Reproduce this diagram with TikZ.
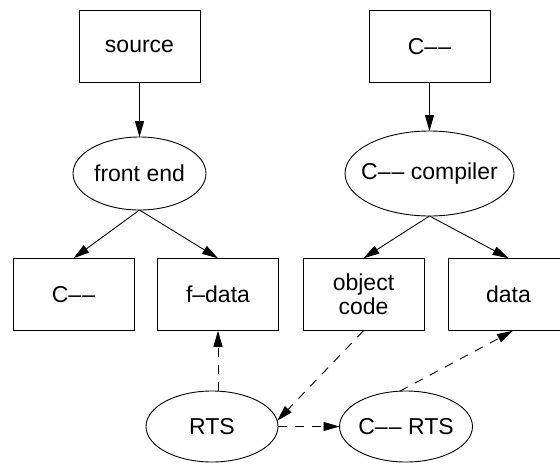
\documentclass[tikz,border=0pt]{standalone}
\usepackage{fontspec}
\setmainfont{Liberation Sans}
\usetikzlibrary{shapes.geometric,arrows.meta,calc}
\newcommand{\cmm}{C–\kern1.2pt–}
\begin{document}
\begin{tikzpicture}[x=1pt,y=-1pt,
  every node/.style={font=\fontsize{23}{24}\selectfont, inner sep=0pt, outer sep=0pt},
  boxnode/.style={draw, line width=0.9pt, rectangle, minimum width=121pt, minimum height=72.5pt, align=center},
  ellnode/.style={draw, line width=0.9pt, ellipse},
  arr/.style={line width=0.9pt, -{Triangle[length=16pt,width=9pt]}},
  darr/.style={arr, dash pattern=on 9pt off 8pt}
]
\useasboundingbox (0,0) rectangle (560,464);
\clip (0,0) rectangle (560,464);
% top row
\node[boxnode] (src) at (139.5,46.5) {source};
\node[boxnode] (ctop) at (429.5,46.5) {\cmm};
% ellipses
\node[ellnode, minimum width=133pt, minimum height=73pt] (fe) at (139.5,173.5) {\makebox[0pt]{front end}};
\node[ellnode, minimum width=169pt, minimum height=85pt] (cc) at (429.5,173.5) {\makebox[0pt]{\cmm{} compiler}};
% bottom boxes
\node[boxnode] (cm) at (73.5,294.5) {\cmm};
\node[boxnode] (fd) at (218,294.5) {f–data};
\node[boxnode] (oc) at (363.5,294.5) {\fontsize{23}{22}\selectfont object\\ code};
\node[boxnode] (dt) at (508.5,294.5) {data};
% runtime ellipses
\node[ellnode, minimum width=132pt, minimum height=71pt] (rts) at (212,426.5) {\makebox[0pt]{RTS}};
\node[ellnode, minimum width=133pt, minimum height=71pt] (crts) at (406,426.5) {\makebox[0pt]{\cmm{} RTS}};
% solid edges
\draw[arr] (src.south) -- (fe.north);
\draw[arr] (ctop.south) -- (cc.north);
\draw[arr] (fe.south) -- (cm.north);
\draw[arr] (fe.south) -- (fd.north);
\draw[arr] (cc.south) -- (oc.north);
\draw[arr] (cc.south) -- (dt.north);
% dashed edges
\draw[darr] (rts.north -| fd.south) -- (fd.south);
\draw[darr] (oc.south) -- (rts.5);
\draw[darr] (rts.east) -- (crts.west);
\draw[darr] (crts.100) -- ($(dt.south)+(4.5,0)$);
\end{tikzpicture}
\end{document}
